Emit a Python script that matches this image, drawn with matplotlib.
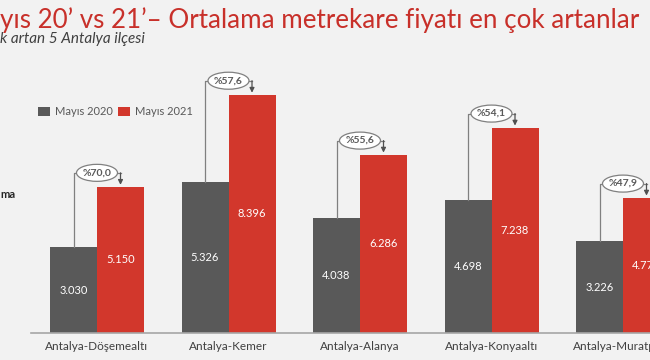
import matplotlib; matplotlib.use('Agg')
import matplotlib.pyplot as plt
import matplotlib.patches as pat

plt.rcParams['font.family'] = ['Lato', 'DejaVu Sans']

districts = ['Antalya-Döşemealtı', 'Antalya-Kemer', 'Antalya-Alanya', 'Antalya-Konyaaltı', 'Antalya-Muratpaşa']
may2020 = [3030, 5326, 4038, 4698, 3226]
may2021 = [5150, 8396, 6286, 7238, 4771]
pct = ['%70,0', '%57,6', '%55,6', '%54,1', '%47,9']
series = ['Mayıs 2020', 'Mayıs 2021']

GRAY = '#595959'
RED = '#d2372c'
BG = '#f2f2f2'

W, H = 650, 360
fig = plt.figure(figsize=(6.5, 3.6), dpi=100, facecolor=BG)
ax = fig.add_axes([0, 0, 1, 1], facecolor=BG)
# pixel mapping: group centre at 97 + 131.5*i, baseline at y=333 px, 0.02838 px per unit
pxx = 131.5
upy = 1 / 0.02838
ax.set_xlim(-97 / pxx, (W - 97) / pxx)
ax.set_ylim(-(H - 333) * upy, 333 * upy)
ax.axis('off')

bw = 47 / pxx
x = list(range(len(districts)))
ax.bar([i - bw / 2 for i in x], may2020, bw, color=GRAY, label=series[0], zorder=2)
ax.bar([i + bw / 2 for i in x], may2021, bw, color=RED, label=series[1], zorder=2)
ax.plot([31 / pxx - 97 / pxx, (W - 97) / pxx], [0, 0], color='#a6a6a6', lw=1.2, zorder=3)

for i in x:
    g, r = may2020[i], may2021[i]
    ax.text(i - bw / 2, g / 2, f'{g:,}'.replace(',', '.'), color='white', fontsize=8,
            ha='center', va='center', zorder=4)
    ax.text(i + bw / 2, r / 2, f'{r:,}'.replace(',', '.'), color='white', fontsize=8,
            ha='center', va='center', zorder=4)
    ax.text(i, -14 * upy, districts[i], color='#404040', fontsize=8.5, ha='center', va='center')
    # bracket with arrow
    top = r + 14 * upy
    ax.plot([i - bw / 2, i - bw / 2, i + bw / 2], [g, top, top], color='#808080', lw=0.9, zorder=3)
    ax.annotate('', xy=(i + bw / 2, r + 2 * upy), xytext=(i + bw / 2, top),
                arrowprops=dict(arrowstyle='-|>', color='#505050', lw=0.9,
                                mutation_scale=7, shrinkA=0, shrinkB=0), zorder=3)
    ax.add_patch(pat.Ellipse((i, top), 41 / pxx, 17 * upy, facecolor='white',
                             edgecolor='#808080', lw=0.9, zorder=4))
    ax.text(i, top, pct[i], color='#595959', fontsize=7.5, fontweight='bold',
            ha='center', va='center', zorder=5)

ax.legend(loc='upper left', bbox_to_anchor=(28 / W, 1 - 96 / H), ncol=2, frameon=False,
          fontsize=8, handlelength=1.1, handleheight=0.9, handletextpad=0.4,
          columnspacing=0.5, labelcolor=GRAY)

fig.text(0, 1 - 20 / H, 'yıs 20’ vs 21’– Ortalama metrekare fiyatı en çok artanlar',
         color='#c8302a', fontsize=18.7, ha='left', va='center')
fig.text(0, 1 - 39 / H, 'k artan 5 Antalya ilçesi', color='#404040', fontsize=11,
         style='italic', ha='left', va='center')
fig.text(0, 1 - 195 / H, 'ma', color='#262626', fontsize=8, fontweight='bold',
         ha='left', va='center')

fig.savefig('out.png', dpi=100, facecolor=BG)
